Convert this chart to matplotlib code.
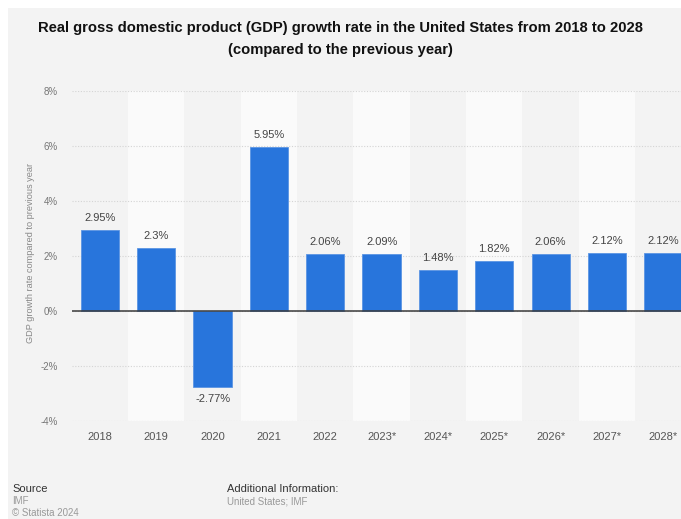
import matplotlib.pyplot as plt
from matplotlib.patches import Rectangle

years = ['2018', '2019', '2020', '2021', '2022', '2023*', '2024*', '2025*', '2026*', '2027*', '2028*']
growth = [2.95, 2.3, -2.77, 5.95, 2.06, 2.09, 1.48, 1.82, 2.06, 2.12, 2.12]
labels = ['2.95%', '2.3%', '-2.77%', '5.95%', '2.06%', '2.09%', '1.48%', '1.82%', '2.06%', '2.12%', '2.12%']
yticks = [-4, -2, 0, 2, 4, 6, 8]

plt.rcParams['font.family'] = ['Liberation Sans', 'DejaVu Sans']

W, H = 681, 519
fig = plt.figure(figsize=(W / 100, H / 100), dpi=100)
fig.patch.set_facecolor('white')

# grey page with a thin white margin on top and left
fig.patches.append(Rectangle((8 / W, 0), 1, 1 - 8 / H, transform=fig.transFigure,
                             facecolor='#f3f3f3', edgecolor='none', zorder=-10))

left, right, top, bottom = 71.8, 691.5, 91, 421
ax = fig.add_axes([left / W, 1 - bottom / H, (right - left) / W, (bottom - top) / H])
ax.set_facecolor('none')

x = list(range(len(years)))
for i in x:
    ax.axvspan(i - 0.5, i + 0.5, color='#f3f3f3' if i % 2 == 0 else '#fafafa', zorder=0, lw=0)

for t in yticks:
    ax.axhline(t, color='#d4d4d4', lw=0.8, ls=(0, (1, 1.5)), zorder=1)

ax.bar(x, growth, width=0.68, color='#2875dc', edgecolor='#5b95e3', linewidth=0.6, zorder=3)
ax.axhline(0, color='#3a3a3a', lw=1.1, zorder=4)

for i, v in enumerate(growth):
    if v >= 0:
        ax.annotate(labels[i], (i, v), xytext=(0, 5), textcoords='offset points',
                    ha='center', va='bottom', fontsize=8, color='#444444')
    else:
        ax.annotate(labels[i], (i, v), xytext=(0, -5), textcoords='offset points',
                    ha='center', va='top', fontsize=8, color='#444444')

ax.set_xlim(-0.5, len(years) - 0.5)
ax.set_ylim(-4, 8)
ax.set_xticks(x)
ax.set_xticklabels(years, fontsize=8, color='#555555')
ax.set_yticks(yticks)
ax.set_yticklabels([f'{t}%' for t in yticks], fontsize=7, color='#777777')
ax.tick_params(axis='both', length=0)
ax.tick_params(axis='y', pad=10)
ax.tick_params(axis='x', pad=8)
ax.set_ylabel('GDP growth rate compared to previous year', fontsize=6.6, color='#888888')
ax.yaxis.set_label_coords(-37 / (right - left), 0.51)

for s in ax.spines.values():
    s.set_visible(False)

fig.text(340 / W, 1 - 28 / H, 'Real gross domestic product (GDP) growth rate in the United States from 2018 to 2028',
         ha='center', va='center', fontsize=10.6, fontweight='bold', color='#111111')
fig.text(340 / W, 1 - 50 / H, '(compared to the previous year)',
         ha='center', va='center', fontsize=10.6, fontweight='bold', color='#111111')

fig.text(12 / W, 1 - 489 / H, 'Source', fontsize=8, color='#333333', va='center')
fig.text(12 / W, 1 - 501 / H, 'IMF', fontsize=7, color='#999999', va='center')
fig.text(12 / W, 1 - 513 / H, '\u00a9 Statista 2024', fontsize=7, color='#999999', va='center')
fig.text(227 / W, 1 - 489 / H, 'Additional Information:', fontsize=8, color='#333333', va='center')
fig.text(227 / W, 1 - 501 / H, 'United States; IMF', fontsize=7, color='#999999', va='center')

plt.savefig('out.png', dpi=100)
